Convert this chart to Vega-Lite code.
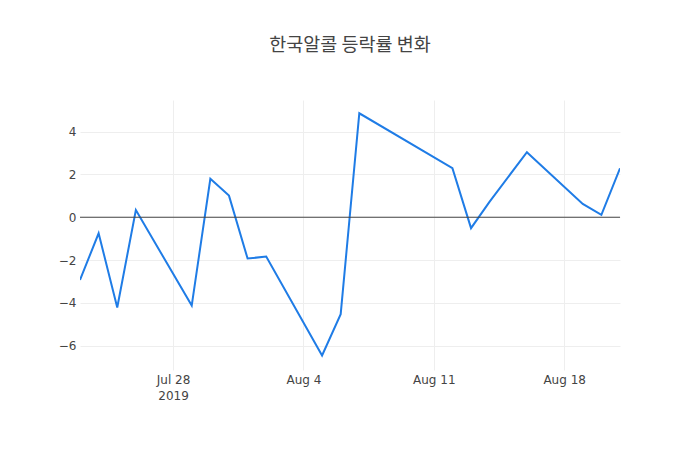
{
  "$schema": "https://vega.github.io/schema/vega-lite/v6.json",
  "autosize": "none",
  "width": 540,
  "height": 270,
  "padding": {"left": 80, "top": 100, "right": 80, "bottom": 80},
  "background": "white",
  "title": {
    "text": "한국알콜 등락률 변화",
    "font": "Noto Sans CJK KR",
    "fontSize": 18.5,
    "fontWeight": "normal",
    "color": "#444",
    "anchor": "middle",
    "offset": 46
  },
  "config": {
    "view": {"stroke": null},
    "axis": {
      "labelFont": "DejaVu Sans",
      "labelFontSize": 12,
      "labelColor": "#444",
      "gridColor": "#eee",
      "gridWidth": 1,
      "domain": false,
      "ticks": false,
      "title": null
    }
  },
  "data": {
    "values": [
      {"date": "2019-07-23", "rate": -2.93},
      {"date": "2019-07-24", "rate": -0.75},
      {"date": "2019-07-25", "rate": -4.22},
      {"date": "2019-07-26", "rate": 0.34},
      {"date": "2019-07-29", "rate": -4.13},
      {"date": "2019-07-30", "rate": 1.8},
      {"date": "2019-07-31", "rate": 1.01},
      {"date": "2019-08-01", "rate": -1.93},
      {"date": "2019-08-02", "rate": -1.84},
      {"date": "2019-08-05", "rate": -6.46},
      {"date": "2019-08-06", "rate": -4.53},
      {"date": "2019-08-07", "rate": 4.86},
      {"date": "2019-08-12", "rate": 2.29},
      {"date": "2019-08-13", "rate": -0.51},
      {"date": "2019-08-14", "rate": 0.73},
      {"date": "2019-08-16", "rate": 3.04},
      {"date": "2019-08-19", "rate": 0.62},
      {"date": "2019-08-20", "rate": 0.11},
      {"date": "2019-08-21", "rate": 2.29}
    ]
  },
  "layer": [
    {
      "mark": {"type": "line", "color": "#1f7ce6", "strokeWidth": 2, "clip": true},
      "encoding": {
        "x": {
          "field": "date",
          "type": "temporal",
          "scale": {
            "type": "utc",
            "domain": [
              {"year": 2019, "month": 7, "date": 23, "utc": true},
              {"year": 2019, "month": 8, "date": 21, "utc": true}
            ]
          },
          "axis": {
            "values": [
              {"year": 2019, "month": 7, "date": 28, "utc": true},
              {"year": 2019, "month": 8, "date": 4, "utc": true},
              {"year": 2019, "month": 8, "date": 11, "utc": true},
              {"year": 2019, "month": 8, "date": 18, "utc": true}
            ],
            "labelExpr": "datum.index == 0 ? [utcFormat(datum.value, '%b %-d'), '2019'] : utcFormat(datum.value, '%b %-d')",
            "labelPadding": 4,
            "labelAlign": "center",
            "labelBaseline": "top",
            "labelLineHeight": 16
          }
        },
        "y": {
          "field": "rate",
          "type": "quantitative",
          "scale": {"domain": [-7.14, 5.48], "nice": false, "zero": false},
          "axis": {
            "values": [-6, -4, -2, 0, 2, 4],
            "labelPadding": 4,
            "labelExpr": "replace(datum.label, '-', '−')"
          }
        }
      }
    },
    {
      "data": {"values": [{"y": 0}]},
      "mark": {"type": "rule", "color": "#444", "strokeWidth": 1},
      "encoding": {"y": {"field": "y", "type": "quantitative"}}
    }
  ]
}
